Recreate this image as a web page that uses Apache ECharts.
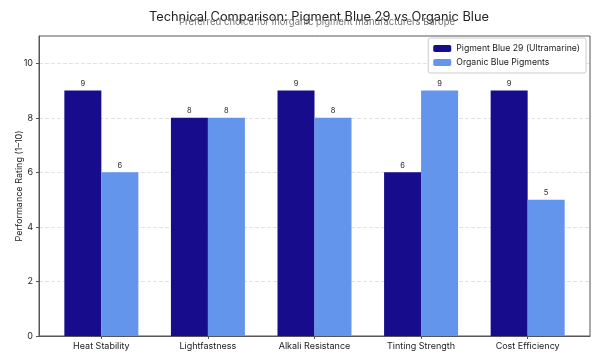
<!DOCTYPE html>
<html><head><meta charset="utf-8">
<script src="https://cdn.jsdelivr.net/npm/echarts@6/dist/echarts.min.js"></script>
<style>html,body{margin:0;padding:0;background:#fff}#c{width:600px;height:360px}</style>
</head><body><div id="c"></div>
<script>
const categories = ["Heat Stability", "Lightfastness", "Alkali Resistance", "Tinting Strength", "Cost Efficiency"];
const pb29 = [9, 8, 9, 6, 9];
const organic = [6, 8, 8, 9, 5];
const yTicks = [0, 2, 4, 6, 8, 10];
const xTicks = categories.map((c, i) => i);

const chart = echarts.init(document.getElementById('c'));
const font = 'Inter, "Noto Sans", sans-serif';
const lbl = { show: true, position: 'top', fontSize: 7.5, color: '#222', distance: 3 };
chart.setOption({
  animation: false,
  textStyle: { fontFamily: font },
  title: [
    { text: 'Technical Comparison: Pigment Blue 29 vs Organic Blue', left: 314, textAlign: 'center', top: 6,
      textStyle: { fontSize: 12.8, fontWeight: 'normal', color: '#222', fontFamily: font } },
    { text: 'Preferred choice for inorganic pigment manufacturers Europe', left: 312, textAlign: 'center', top: 12,
      textStyle: { fontSize: 9.5, fontWeight: 'normal', color: '#777', fontFamily: font } }
  ],
  legend: {
    right: 14, top: 38, orient: 'vertical', itemWidth: 18, itemHeight: 7, itemGap: 5,
    backgroundColor: '#fff', borderColor: '#ccc', borderWidth: 1, borderRadius: 2, padding: [6, 6, 6, 5],
    textStyle: { fontSize: 8.7, color: '#222', fontFamily: font },
    data: ['Pigment Blue 29 (Ultramarine)', 'Organic Blue Pigments']
  },
  grid: { left: 39, right: 10, top: 36, bottom: 24, show: true, borderColor: '#555', borderWidth: 1,
    outerBoundsMode: 'none', containLabel: false },
  xAxis: {
    type: 'value', min: -0.585, max: 4.585,
    axisLine: { onZero: false, lineStyle: { color: '#555' } },
    axisTick: { show: true, length: 3, lineStyle: { color: '#555' }, customValues: xTicks },
    axisLabel: { fontSize: 9, color: '#222', margin: 6, fontFamily: font, customValues: xTicks,
      formatter: v => categories[Math.round(v)] || '' },
    splitLine: { show: false }
  },
  yAxis: {
    type: 'value', min: 0, max: 11, interval: 2,
    name: 'Performance Rating (1–10)', nameLocation: 'middle', nameGap: 15, nameMoveOverlap: false,
    nameTextStyle: { fontSize: 9, color: '#222', fontFamily: font },
    axisLine: { show: true, onZero: false, lineStyle: { color: '#555' } },
    axisTick: { show: true, length: 3, lineStyle: { color: '#555' }, customValues: yTicks },
    axisLabel: { fontSize: 9, color: '#222', fontFamily: font, customValues: yTicks, margin: 6 },
    splitLine: { lineStyle: { type: 'dashed', color: '#e2e2e2' } }
  },
  series: [
    { name: 'Pigment Blue 29 (Ultramarine)', type: 'bar', barWidth: 37, barGap: '0%',
      data: pb29.map((v, i) => [i, v]),
      itemStyle: { color: '#170D8C' }, label: lbl },
    { name: 'Organic Blue Pigments', type: 'bar', barWidth: 37, barGap: '0%',
      data: organic.map((v, i) => [i, v]),
      itemStyle: { color: '#6495ED' }, label: lbl }
  ]
});
</script></body></html>
